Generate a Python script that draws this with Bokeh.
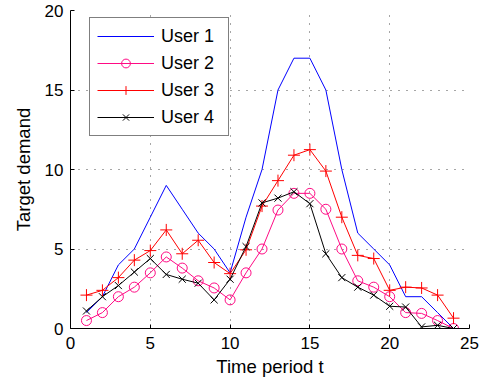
from bokeh.plotting import figure
from bokeh.models import Range1d, FixedTicker, Legend
from bokeh.embed import file_html
from bokeh.resources import INLINE

t = list(range(1, 25))
user1 = [1, 2, 4, 5, 7, 9, 7.5, 6, 5, 3.5, 7, 10, 15, 17, 17, 15, 10, 6, 5, 4, 2, 2, 1, 0]
user2 = [0.5, 1.0, 2.0, 2.6, 3.5, 4.5, 3.8, 3.0, 2.55, 1.8, 3.5, 5.0, 7.45, 8.5, 8.5, 7.5,
         5.0, 3.0, 2.6, 2.0, 1.0, 0.95, 0.5, 0.0]
user3 = [2.1, 2.4, 3.2, 4.3, 4.9, 6.2, 4.7, 5.55, 4.15, 3.45, 4.95, 7.7, 9.3, 10.9, 11.25, 9.9,
         7.0, 4.6, 4.4, 2.4, 2.6, 2.55, 2.1, 0.65]
user4 = [1.1, 2.0, 2.7, 3.55, 4.4, 3.4, 3.1, 2.85, 1.8, 3.1, 5.15, 7.9, 8.2, 8.6, 7.85, 4.7,
         3.2, 2.6, 2.1, 1.4, 1.35, 0.1, 0.2, 0.0]

x_ticks = [0, 5, 10, 15, 20, 25]
y_ticks = [0, 5, 10, 15, 20]

FONT = "Liberation Sans"

p = figure(width=480, height=382, output_backend="svg", toolbar_location=None,
           x_range=Range1d(0, 25), y_range=Range1d(0, 20),
           min_border_left=70, min_border_right=11, min_border_top=10, min_border_bottom=54)
p.outline_line_color = None
p.background_fill_color = "white"
p.border_fill_color = "white"

for ax, ticks in ((p.xaxis, x_ticks), (p.yaxis, y_ticks)):
    ax.ticker = FixedTicker(ticks=ticks)
    ax.major_tick_in = 4
    ax.major_tick_out = 0
    ax.minor_tick_line_color = None
    ax.axis_line_color = "black"
    ax.major_tick_line_color = "black"
    ax.major_label_text_font = FONT
    ax.major_label_text_font_size = "17px"
    ax.major_label_text_color = "black"
    ax.axis_label_text_font = FONT
    ax.axis_label_text_font_size = "18.5px"
    ax.axis_label_text_font_style = "normal"
    ax.axis_label_text_color = "black"

p.xaxis.major_label_standoff = 8
p.yaxis.major_label_standoff = 7
p.xaxis.axis_label = "Time period t"
p.yaxis.axis_label = "Target demand"
p.xaxis.axis_label_standoff = 4
p.yaxis.axis_label_standoff = 8

p.xgrid.ticker = FixedTicker(ticks=[5, 10, 15, 20, 25])
p.ygrid.ticker = FixedTicker(ticks=[5, 10, 15, 20])
for g in (p.xgrid, p.ygrid):
    g.grid_line_color = "black"
    g.grid_line_alpha = 0.7
    g.grid_line_dash = "1 7"
    g.grid_line_width = 1

blue = "#0000ff"
pink = "#ff0a84"
red = "#ff0000"

r1 = p.line(t, user1, line_color=blue, line_width=1)
r2l = p.line(t, user2, line_color=pink, line_width=1)
r2m = p.scatter(t, user2, marker="circle", size=10, line_color=pink, fill_color=None, line_width=1)
r3l = p.line(t, user3, line_color=red, line_width=1)
r3m = p.scatter(t, user3, marker="cross", size=12, line_color=red, line_width=1)
r4l = p.line(t, user4, line_color="black", line_width=1)
r4m = p.scatter(t, user4, marker="x", size=10, line_color="black", line_width=1)

legend = Legend(items=[("User 1", [r1]), ("User 2", [r2l, r2m]),
                       ("User 3", [r3l, r3m]), ("User 4", [r4l, r4m])],
                location=(19, 192))
legend.label_text_font = FONT
legend.label_text_font_size = "18px"
legend.label_text_color = "black"
legend.border_line_color = "black"
legend.border_line_width = 1
legend.background_fill_color = "white"
legend.background_fill_alpha = 1
legend.glyph_width = 57
legend.glyph_height = 22
legend.label_height = 22
legend.label_width = 60
legend.label_standoff = 7
legend.spacing = 5
legend.padding = 7
legend.margin = 0
p.add_layout(legend, "center")

open("out.html", "w").write(file_html(p, INLINE))
